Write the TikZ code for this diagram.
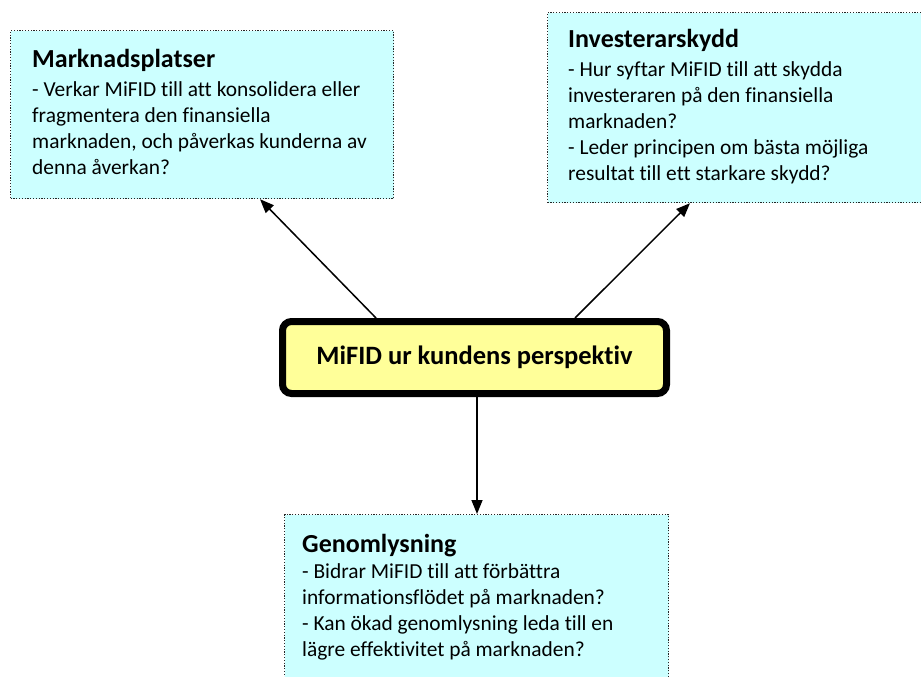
\documentclass[tikz,border=0pt]{standalone}
\usepackage{fontspec}
\setmainfont{Carlito}[Ligatures=CommonOff]
\usetikzlibrary{arrows.meta}
\definecolor{boxcyan}{HTML}{CCFFFF}
\definecolor{boxyellow}{HTML}{FFFF99}
\begin{document}
\begin{tikzpicture}[x=1pt,y=-1pt,
  infobox/.style={draw=black!85, fill=boxcyan, line width=1.2pt, dash pattern=on 1.2pt off 1.6pt, anchor=north west, inner sep=0pt, minimum width=#1},
  ttl/.style={anchor=base west, inner sep=0pt, font=\fontsize{26}{31}\selectfont\bfseries},
  bodytext/.style={anchor=base west, inner sep=0pt, align=left, font=\fontsize{21.4}{26}\selectfont},
  centerbox/.style={draw=black, fill=boxyellow, line width=7pt, rounded corners=9pt, inner sep=0pt, minimum width=384pt, minimum height=72pt, font=\fontsize{26.5}{31}\selectfont\bfseries},
  arr/.style={line width=1.5pt, -{Triangle[length=14pt,width=11pt]}}]
\useasboundingbox (0,0) rectangle (921,677);
\clip (0,0) rectangle (921,677);
% boxes
\node[infobox=383pt, minimum height=168pt] (m) at (10,30) {};
\node[infobox=390pt, minimum height=190pt] (i) at (547,12) {};
\node[infobox=384pt, minimum height=190pt] (g) at (284,514) {};
% texts (anchor = baseline of the last line)
\node[ttl] (mt) at (32,67) {Marknadsplatser};
\node[bodytext] (mb) at (32,174) {- Verkar MiFID till att konsolidera eller\\fragmentera den finansiella\\marknaden, och påverkas kunderna av\\denna åverkan?};
\node[ttl] (it) at (568,48) {Investerarskydd};
\node[bodytext] (ib) at (568,180) {- Hur syftar MiFID till att skydda\\investeraren på den finansiella\\marknaden?\\- Leder principen om bästa möjliga\\resultat till ett starkare skydd?};
\node[ttl] (gt) at (302,552) {Genomlysning};
\node[bodytext] (gb) at (302,656) {- Bidrar MiFID till att förbättra\\informationsflödet på marknaden?\\- Kan ökad genomlysning leda till en\\lägre effektivitet på marknaden?};
% center
\node[centerbox] (c) at (474.5,357.5) {MiFID ur kundens perspektiv};
% arrows
\draw[arr] (c.north -| 376,0) -- (m.south -| 260,0);
\draw[arr] (c.north -| 575,0) -- (i.south -| 690,0);
\draw[arr] (c.south -| 477,0) -- (g.north -| 477,0);
\end{tikzpicture}
\end{document}
